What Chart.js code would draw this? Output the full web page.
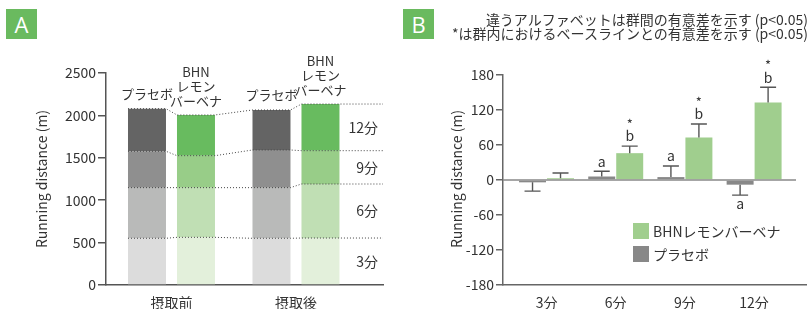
<!DOCTYPE html>
<html><head><meta charset="utf-8">
<script src="https://cdn.jsdelivr.net/npm/chart.js@4.4.1/dist/chart.umd.min.js"></script>
<style>
html,body{margin:0;padding:0;background:#fff;}
#wrap{position:relative;width:811px;height:309px;overflow:hidden;font-family:'Noto Sans CJK JP',sans-serif;color:#333;}
canvas{position:absolute;top:0;}
#cA{left:0;} #cB{left:400px;}
.tag{position:absolute;top:9px;width:31px;height:30px;background:#6aba5f;color:#fff;font:22px/30px 'Open Sans','Noto Sans',sans-serif;text-align:center;}
#title{position:absolute;right:3px;top:12px;font-size:14px;line-height:14px;text-align:right;white-space:nowrap;}
</style></head>
<body><div id="wrap">
<canvas id="cA" width="400" height="309"></canvas>
<canvas id="cB" width="411" height="309"></canvas>
<div class="tag" style="left:6px">A</div>
<div class="tag" style="left:403px">B</div>
<div id="title">違うアルファベットは群間の有意差を示す (p&lt;0.05)<br>*は群内におけるベースラインとの有意差を示す (p&lt;0.05)</div>
</div>
<script>
// ---------- Panel A data ----------
const timeLabels = ['摂取前', '摂取後'];
const intervalLabels = ['3分', '6分', '9分', '12分'];
// distance run in each 3-minute interval (m): [0-3, 3-6, 6-9, 9-12]
const placeboPre = [551, 597, 429, 502];
const placeboPost = [551, 597, 444, 472];
const bhnPre = [562, 586, 377, 480];
const bhnPost = [554, 637, 393, 550];
const yTicksA = [0, 500, 1000, 1500, 2000, 2500];
const placeboName = 'プラセボ';
const bhnNameLines = ['BHN', 'レモン', 'バーベナ'];

// ---------- Panel B data ----------
const minuteLabels = ['3分', '6分', '9分', '12分'];
const placeboChange = [-4, 6, 5, -8];
const placeboErr = [15, 9, 19, 18];
const bhnChange = [3, 46, 73, 133];
const bhnErr = [9, 12, 23, 26];
const placeboSig = ['', 'a', 'a', 'a'];
const bhnSig = ['', 'b', 'b', 'b'];
const bhnStar = ['', '*', '*', '*'];
const yTicksB = [-180, -120, -60, 0, 60, 120, 180];
const legendNames = ['BHNレモンバーベナ', 'プラセボ'];

const FONT = "'Noto Sans CJK JP', sans-serif";
Chart.defaults.font.family = FONT;
Chart.defaults.font.size = 14;
Chart.defaults.color = '#333';

const greyShades = ['#dcdcdc', '#b9bab9', '#8f8f8f', '#646464'];
const greenShades = ['#e3f0db', '#c0dfb4', '#98cd88', '#68bb5f'];

// ---------- Panel A ----------
const dsA = [];
intervalLabels.forEach((lab, i) => {
  dsA.push({label: placeboName + ' ' + lab, stack: 'p', backgroundColor: greyShades[i],
    categoryPercentage: 0.787, barPercentage: 0.7755,
    data: [{x: 0, y: placeboPre[i]}, {x: 1, y: placeboPost[i]}]});
});
intervalLabels.forEach((lab, i) => {
  dsA.push({label: 'BHN ' + lab, stack: 'b', backgroundColor: greenShades[i],
    categoryPercentage: 0.787, barPercentage: 0.7755,
    data: [{x: 0, y: bhnPre[i]}, {x: 1, y: bhnPost[i]}]});
});

const panelAPlugin = {
  id: 'panelA',
  afterDatasetsDraw(chart) {
    const {ctx, chartArea} = chart;
    const n = intervalLabels.length;
    const order = [[0, 0], [n, 0], [0, 1], [n, 1]];
    const bars = order.map(([off, j]) => {
      const tops = [];
      let left, right, cx;
      for (let k = 0; k < n; k++) {
        const el = chart.getDatasetMeta(off + k).data[j];
        tops.push(el.y);
        left = el.x - el.width / 2; right = el.x + el.width / 2; cx = el.x;
      }
      return {left, right, cx, tops, base: chart.scales.y.getPixelForValue(0), isBhn: off > 0};
    });
    ctx.save();
    // dotted connecting lines
    ctx.strokeStyle = '#444';
    ctx.lineWidth = 1;
    ctx.setLineDash([1, 2]);
    for (let k = 0; k < n; k++) {
      ctx.beginPath();
      bars.forEach((b, i) => {
        if (i === 0) ctx.moveTo(b.left, b.tops[k]); else ctx.lineTo(b.left, b.tops[k]);
        ctx.lineTo(b.right, b.tops[k]);
      });
      ctx.lineTo(chartArea.right, bars[bars.length - 1].tops[k]);
      ctx.stroke();
    }
    ctx.setLineDash([]);
    // labels above bars
    ctx.fillStyle = '#333';
    ctx.textAlign = 'center';
    ctx.textBaseline = 'middle';
    ctx.font = '13px ' + FONT;
    bars.forEach(b => {
      const top = b.tops[n - 1];
      if (!b.isBhn) {
        ctx.fillText(placeboName, b.cx, top - 15);
      } else {
        bhnNameLines.forEach((t, i) => {
          ctx.fillText(t, b.cx, top - 14 - (bhnNameLines.length - 1 - i) * 14.6);
        });
      }
    });
    // interval labels on the right
    const last = bars[bars.length - 1];
    ctx.font = '14px ' + FONT;
    ctx.textAlign = 'right';
    for (let k = 0; k < n; k++) {
      const lo = k === 0 ? last.base : last.tops[k - 1];
      ctx.fillText(intervalLabels[k], chartArea.right - 5, (lo + last.tops[k]) / 2);
    }
    // y title
    ctx.translate(41.5, 179);
    ctx.rotate(-Math.PI / 2);
    ctx.textAlign = 'center';
    ctx.fillText('Running distance (m)', 0, 0);
    ctx.restore();
  }
};

new Chart(document.getElementById('cA'), {
  type: 'bar',
  data: {datasets: dsA},
  options: {
    responsive: false, animation: false, devicePixelRatio: 1,
    layout: {padding: {left: 0, right: 17, top: 73, bottom: 0}},
    plugins: {legend: {display: false}, tooltip: {enabled: false}},
    scales: {
      x: {type: 'linear', offset: false, min: -0.526, max: 1.699,
        afterBuildTicks: s => { s.ticks = timeLabels.map((_, i) => ({value: i})); },
        afterFit: s => { s.height = 24; },
        grid: {display: false, offset: false},
        border: {display: true, color: '#555', width: 1.5},
        ticks: {callback: v => timeLabels[v], padding: 1, autoSkip: false, maxRotation: 0, color: '#333', font: {size: 14}}},
      y: {stacked: true, min: 0, max: 2500,
        afterBuildTicks: s => { s.ticks = yTicksA.map(v => ({value: v})); },
        afterFit: s => { s.width = 106; },
        grid: {drawOnChartArea: false, drawTicks: true, tickLength: 8, color: '#555', lineWidth: 1.5},
        border: {display: true, color: '#555', width: 1.5},
        ticks: {callback: v => String(v), padding: 2, color: '#333', font: {size: 14}}}
    }
  },
  plugins: [panelAPlugin]
});

// ---------- Panel B ----------
const panelBPlugin = {
  id: 'panelB',
  afterDatasetsDraw(chart) {
    const {ctx, chartArea, scales: {y}} = chart;
    ctx.save();
    // zero line
    const y0 = y.getPixelForValue(0);
    ctx.strokeStyle = '#888';
    ctx.lineWidth = 1.5;
    ctx.beginPath();
    ctx.moveTo(chartArea.left, y0);
    ctx.lineTo(chartArea.right - 10, y0);
    ctx.stroke();
    // error bars and significance letters
    const groups = [[placeboChange, placeboErr, placeboSig, null], [bhnChange, bhnErr, bhnSig, bhnStar]];
    groups.forEach(([vals, errs, sig, star], d) => {
      const meta = chart.getDatasetMeta(d);
      meta.data.forEach((el, i) => {
        const v = vals[i];
        const sgn = v >= 0 ? 1 : -1;
        const yEnd = y.getPixelForValue(v + sgn * errs[i]);
        ctx.strokeStyle = '#555';
        ctx.lineWidth = 1.4;
        ctx.beginPath();
        ctx.moveTo(el.x, el.y);
        ctx.lineTo(el.x, yEnd);
        ctx.moveTo(el.x - 8, yEnd);
        ctx.lineTo(el.x + 8, yEnd);
        ctx.stroke();
        ctx.fillStyle = '#333';
        ctx.textAlign = 'center';
        ctx.textBaseline = 'middle';
        ctx.font = '14px ' + FONT;
        if (sig[i]) {
          const ly = sgn > 0 ? yEnd - 10 : yEnd + 9;
          ctx.fillText(sig[i], el.x, ly);
          if (star && star[i]) {
            ctx.font = '13px ' + FONT;
            ctx.fillText(star[i], el.x, ly - 12);
          }
        }
      });
    });
    // legend
    const legendColors = [chart.data.datasets[1].backgroundColor, chart.data.datasets[0].backgroundColor];
    ctx.font = '14px ' + FONT;
    ctx.textAlign = 'left';
    ctx.textBaseline = 'middle';
    legendNames.forEach((name, i) => {
      const top = 223 + i * 23;
      ctx.fillStyle = legendColors[i];
      ctx.fillRect(233, top, 16, 16);
      ctx.fillStyle = '#333';
      ctx.fillText(name, 253, top + 8.5);
    });
    // y title
    ctx.translate(56.5, 179);
    ctx.rotate(-Math.PI / 2);
    ctx.textAlign = 'center';
    ctx.fillText('Running distance (m)', 0, 0);
    ctx.restore();
  }
};

new Chart(document.getElementById('cB'), {
  type: 'bar',
  data: {datasets: [
    {label: 'プラセボ', backgroundColor: '#888888', categoryPercentage: 0.809, barPercentage: 0.964,
      data: placeboChange.map((v, i) => ({x: i, y: v}))},
    {label: 'BHNレモンバーベナ', backgroundColor: '#a0ce8e', categoryPercentage: 0.809, barPercentage: 0.964,
      data: bhnChange.map((v, i) => ({x: i, y: v}))}
  ]},
  options: {
    responsive: false, animation: false, devicePixelRatio: 1,
    layout: {padding: {left: 0, right: 5, top: 75, bottom: 0}},
    plugins: {legend: {display: false}, tooltip: {enabled: false}},
    scales: {
      x: {type: 'linear', offset: false, min: -0.629, max: 3.75,
        afterBuildTicks: s => { s.ticks = minuteLabels.map((_, i) => ({value: i})); },
        afterFit: s => { s.height = 24; },
        grid: {display: false, offset: false},
        border: {display: true, color: '#666', width: 1.5},
        ticks: {callback: v => minuteLabels[v], padding: 1, autoSkip: false, maxRotation: 0, color: '#333', font: {size: 14}}},
      y: {min: -180, max: 180,
        afterBuildTicks: s => { s.ticks = yTicksB.map(v => ({value: v})); },
        afterFit: s => { s.width = 103; },
        grid: {drawOnChartArea: false, drawTicks: true, tickLength: 7, color: '#666', lineWidth: 1.5},
        border: {display: true, color: '#666', width: 1.5},
        ticks: {callback: v => String(v), padding: 2, color: '#333', font: {size: 14}}}
    }
  },
  plugins: [panelBPlugin]
});
</script>
</body></html>
